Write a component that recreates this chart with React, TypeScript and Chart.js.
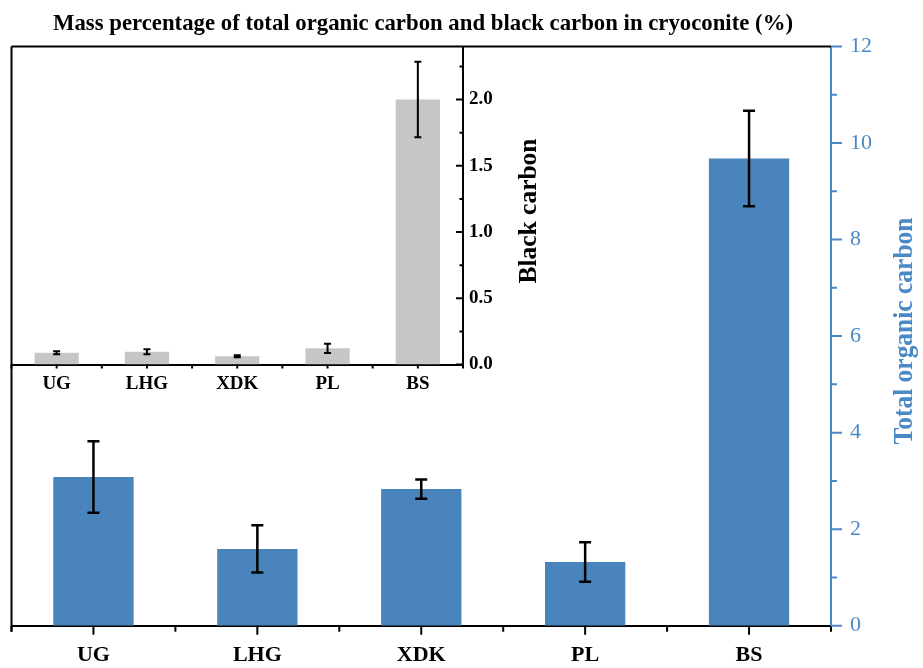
import React, { useEffect, useRef } from 'react';
import { Chart, registerables } from 'chart.js';

Chart.register(...registerables);

const categories = ['UG', 'LHG', 'XDK', 'PL', 'BS'];
const tocValues = [3.08, 1.59, 2.83, 1.32, 9.68];
const tocErrors = [0.74, 0.49, 0.2, 0.41, 0.99];
const bcValues = [0.089, 0.097, 0.062, 0.122, 2.0];
const bcErrors = [0.011, 0.019, 0.007, 0.035, 0.285];
const tocMajorTicks = [0, 2, 4, 6, 8, 10, 12];
const tocMinorTicks = [1, 3, 5, 7, 9, 11];
const bcMajorTicks = [0, 0.5, 1.0, 1.5, 2.0];
const bcMinorTicks = [0.25, 0.75, 1.25, 1.75, 2.25];

const TITLE = 'Mass percentage of total organic carbon and black carbon in cryoconite (%)';
const TOC_TITLE = 'Total organic carbon';
const BC_TITLE = 'Black carbon';

const SERIF = '"Liberation Serif", "Times New Roman", serif';
const BAR_BLUE = '#4a84bd';
const AXIS_BLUE = '#4b89c6';
const BAR_GRAY = '#c6c6c6';

function drawText(ctx: CanvasRenderingContext2D, text: string, x: number, y: number, font: string, color: string, target: number, rotate: boolean) {
  ctx.save();
  ctx.font = font;
  ctx.fillStyle = color;
  ctx.textAlign = 'center';
  ctx.textBaseline = 'alphabetic';
  ctx.translate(x, y);
  if (rotate) ctx.rotate(-Math.PI / 2);
  const w = ctx.measureText(text).width;
  if (target && w > 0) ctx.scale(target / w, 1);
  ctx.fillText(text, 0, 0);
  ctx.restore();
}

function drawErrorBars(chart: any, values: number[], errors: number[], lw: number, cap: number) {
  const meta = chart.getDatasetMeta(0);
  const y = chart.scales.y;
  const ctx = chart.ctx;
  ctx.save();
  ctx.strokeStyle = '#000';
  ctx.lineWidth = lw;
  meta.data.forEach((bar: any, i: number) => {
    const top = y.getPixelForValue(values[i] + errors[i]);
    const bot = y.getPixelForValue(values[i] - errors[i]);
    const x = bar.x;
    ctx.beginPath();
    ctx.moveTo(x, top);
    ctx.lineTo(x, bot);
    ctx.moveTo(x - cap, top);
    ctx.lineTo(x + cap, top);
    ctx.moveTo(x - cap, bot);
    ctx.lineTo(x + cap, bot);
    ctx.stroke();
  });
  ctx.restore();
}

function drawXTicks(chart: any, centerLen: number, boundLen: number) {
  const ctx = chart.ctx;
  const x = chart.scales.x;
  const a = chart.chartArea;
  const n = categories.length;
  const w = (a.right - a.left) / n;
  ctx.save();
  ctx.strokeStyle = '#000';
  ctx.lineWidth = 2;
  ctx.beginPath();
  categories.forEach((_, i) => {
    const px = x.getPixelForValue(i);
    ctx.moveTo(px, a.bottom);
    ctx.lineTo(px, a.bottom + centerLen);
  });
  for (let k = 0; k <= n; k++) {
    const px = a.left + k * w;
    ctx.moveTo(px, a.bottom);
    ctx.lineTo(px, a.bottom + boundLen);
  }
  ctx.stroke();
  ctx.restore();
}

function drawYTicks(chart: any, majors: number[], minors: number[], majorLen: number, minorLen: number, dir: number, color: string) {
  const ctx = chart.ctx;
  const y = chart.scales.y;
  const a = chart.chartArea;
  ctx.save();
  ctx.strokeStyle = color;
  ctx.lineWidth = 2;
  ctx.beginPath();
  majors.forEach((v) => {
    const py = y.getPixelForValue(v);
    ctx.moveTo(a.right, py);
    ctx.lineTo(a.right + dir * majorLen, py);
  });
  minors.forEach((v) => {
    const py = y.getPixelForValue(v);
    ctx.moveTo(a.right, py);
    ctx.lineTo(a.right + dir * minorLen, py);
  });
  ctx.stroke();
  ctx.restore();
}

const mainDecor = {
  id: 'mainDecor',
  afterDatasetsDraw(chart: any) {
    drawErrorBars(chart, tocValues, tocErrors, 2.5, 6);
  },
  afterDraw(chart: any) {
    const ctx = chart.ctx;
    const a = chart.chartArea;
    ctx.save();
    ctx.strokeStyle = '#000';
    ctx.lineWidth = 2;
    ctx.beginPath();
    ctx.moveTo(a.left, a.top);
    ctx.lineTo(a.right, a.top);
    ctx.moveTo(a.left, a.top);
    ctx.lineTo(a.left, a.bottom + 6);
    ctx.stroke();
    ctx.restore();
    drawXTicks(chart, 9, 6);
    drawYTicks(chart, tocMajorTicks, tocMinorTicks, 11, 6, 1, AXIS_BLUE);
    drawText(ctx, TITLE, 423, 30, `bold 23px ${SERIF}`, '#000', 740, false);
    drawText(ctx, TOC_TITLE, 912, 331, `bold 27px ${SERIF}`, AXIS_BLUE, 227, true);
  },
};

const insetDecor = {
  id: 'insetDecor',
  afterDatasetsDraw(chart: any) {
    drawErrorBars(chart, bcValues, bcErrors, 2, 3.5);
  },
  afterDraw(chart: any) {
    drawXTicks(chart, 4, 4);
    drawYTicks(chart, bcMajorTicks, bcMinorTicks, 7, 3.5, -1, '#000');
    drawText(chart.ctx, BC_TITLE, 536, 211, `bold 26px ${SERIF}`, '#000', 145, true);
  },
};

export default function App() {
  const mainRef = useRef<HTMLCanvasElement | null>(null);
  const insetRef = useRef<HTMLCanvasElement | null>(null);

  useEffect(() => {
    if (!mainRef.current || !insetRef.current) return;
    const main = new Chart(mainRef.current, {
      type: 'bar',
      data: {
        labels: categories,
        datasets: [
          {
            data: tocValues,
            backgroundColor: BAR_BLUE,
            borderWidth: 0,
            barPercentage: 0.49,
            categoryPercentage: 1,
          },
        ],
      },
      options: {
        responsive: false,
        animation: false,
        devicePixelRatio: 1,
        layout: { padding: { left: 11.5, top: 46.5, right: 0, bottom: 0 } },
        plugins: { legend: { display: false }, tooltip: { enabled: false }, title: { display: false } },
        scales: {
          x: {
            grid: { display: false, drawTicks: false },
            border: { display: true, color: '#000', width: 2 },
            ticks: { color: '#000', font: { family: SERIF, size: 22, weight: 'bold' }, padding: 16 },
            afterFit: (s: any) => {
              s.height = 42.3;
            },
          },
          y: {
            position: 'right',
            min: 0,
            max: 12,
            afterBuildTicks: (s: any) => {
              s.ticks = tocMajorTicks.map((v) => ({ value: v }));
            },
            grid: { display: false, drawTicks: false },
            border: { display: true, color: AXIS_BLUE, width: 2 },
            ticks: { color: AXIS_BLUE, font: { family: SERIF, size: 22 }, padding: 19 },
            afterFit: (s: any) => {
              s.width = 92;
            },
          },
        },
      } as any,
      plugins: [mainDecor],
    });

    const inset = new Chart(insetRef.current, {
      type: 'bar',
      data: {
        labels: categories,
        datasets: [
          {
            data: bcValues,
            backgroundColor: BAR_GRAY,
            borderWidth: 0,
            barPercentage: 0.49,
            categoryPercentage: 1,
          },
        ],
      },
      options: {
        responsive: false,
        animation: false,
        devicePixelRatio: 1,
        layout: { padding: { left: 11.5, top: 46.5, right: 0, bottom: 0 } },
        plugins: { legend: { display: false }, tooltip: { enabled: false }, title: { display: false } },
        scales: {
          x: {
            grid: { display: false, drawTicks: false },
            border: { display: true, color: '#000', width: 2 },
            ticks: { color: '#000', font: { family: SERIF, size: 19, weight: 'bold' }, padding: 8 },
            afterFit: (s: any) => {
              s.height = 35.5;
            },
          },
          y: {
            position: 'right',
            min: 0,
            max: 2.4,
            afterBuildTicks: (s: any) => {
              s.ticks = bcMajorTicks.map((v) => ({ value: v }));
            },
            grid: { display: false, drawTicks: false },
            border: { display: true, color: '#000', width: 2 },
            ticks: {
              color: '#000',
              font: { family: SERIF, size: 19, weight: 'bold' },
              padding: 6,
              callback: (v: any) => Number(v).toFixed(1),
            },
            afterFit: (s: any) => {
              s.width = 97;
            },
          },
        },
      } as any,
      plugins: [insetDecor],
    });

    return () => {
      main.destroy();
      inset.destroy();
    };
  }, []);

  return (
    <div style={{ position: 'fixed', left: 0, top: 0, width: 923, height: 668, background: '#fff' }}>
      <canvas ref={mainRef} width={923} height={668} style={{ position: 'absolute', left: 0, top: 0 }} />
      <canvas ref={insetRef} width={560} height={400} style={{ position: 'absolute', left: 0, top: 0 }} />
    </div>
  );
}
